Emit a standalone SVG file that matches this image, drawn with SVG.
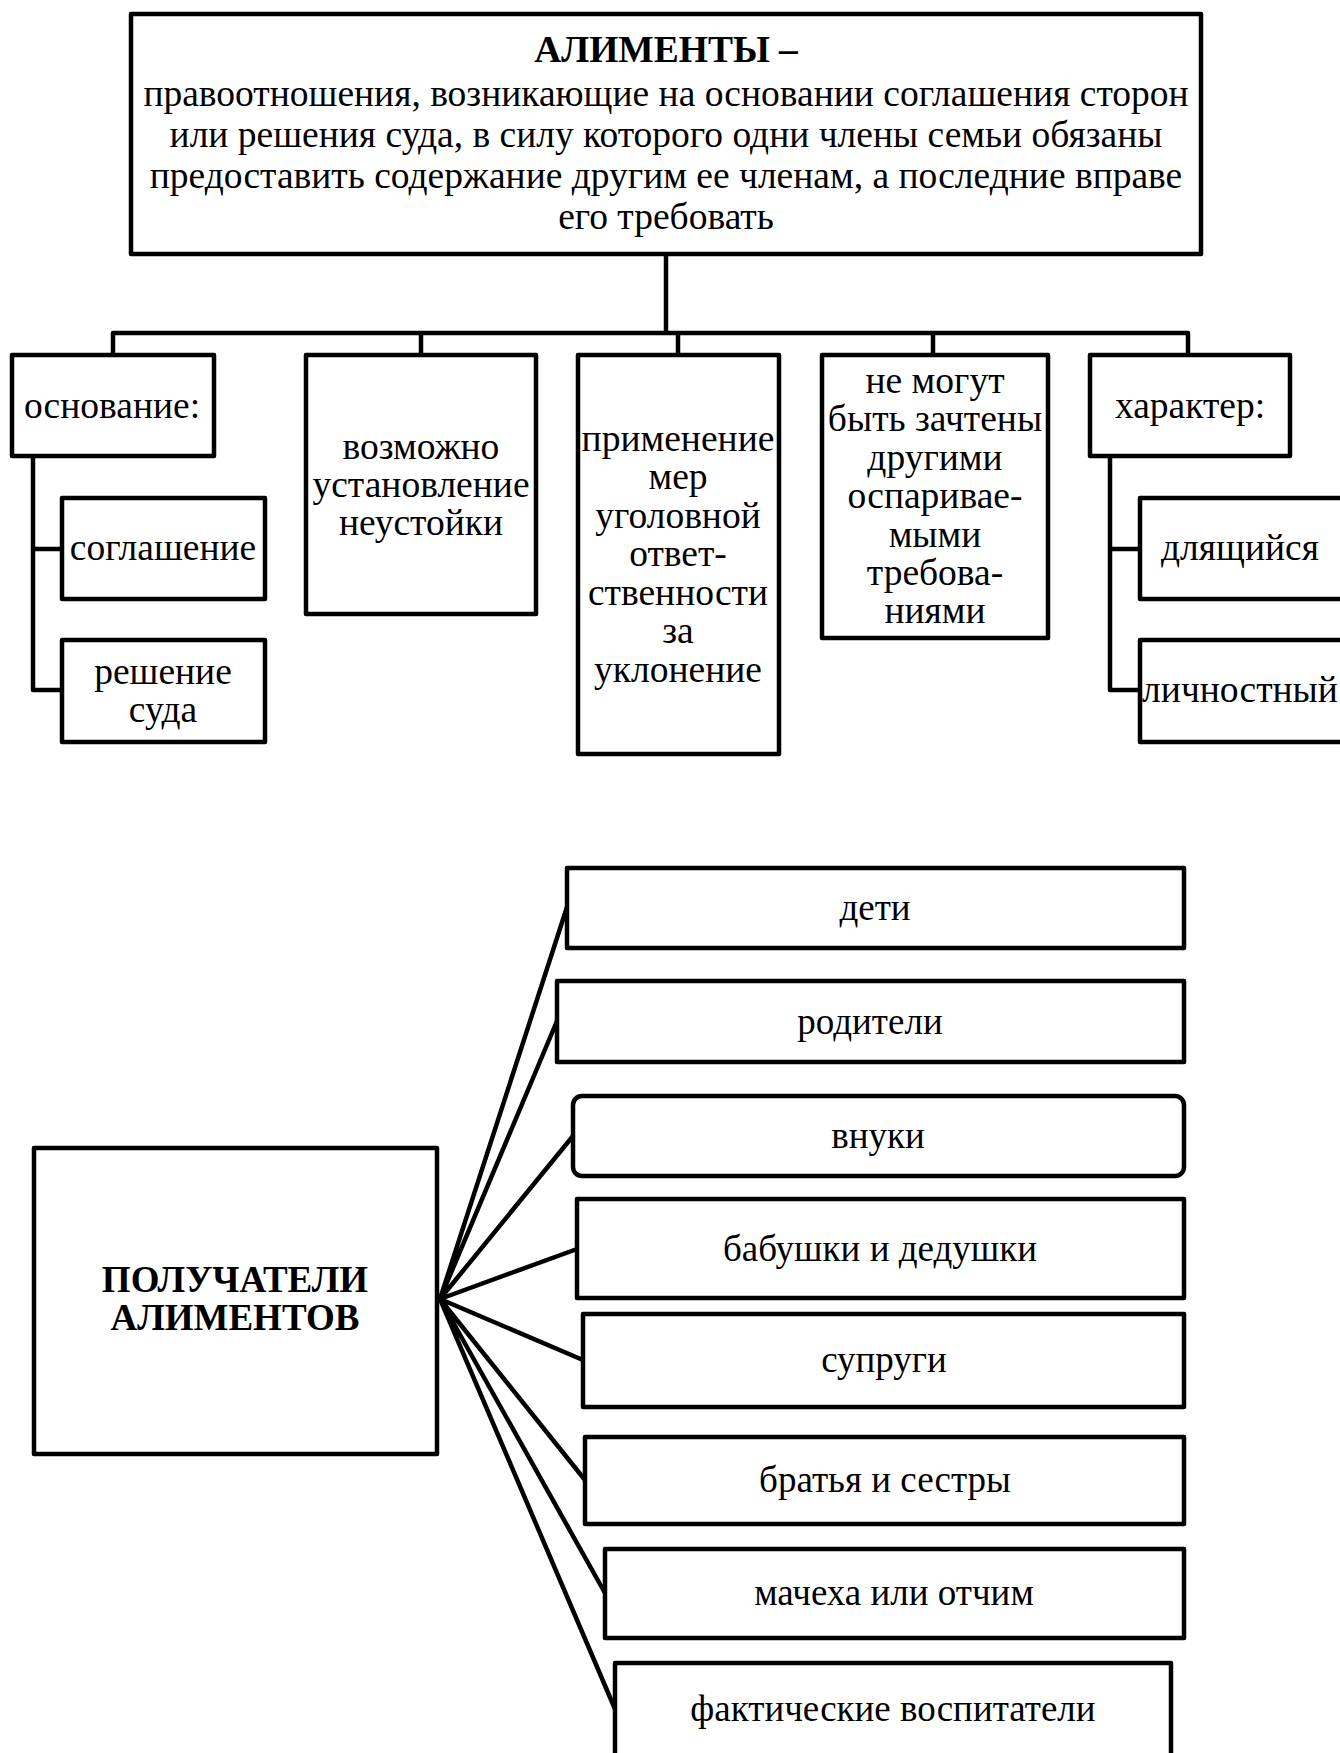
<svg xmlns="http://www.w3.org/2000/svg" width="1340" height="1753" viewBox="0 0 1340 1753">
<style>
  .box{fill:#fff;stroke:#000;stroke-width:4.5;stroke-linejoin:round}
  .ln{fill:none;stroke:#000;stroke-width:4.5;stroke-linejoin:round;stroke-linecap:round}
  text{font-family:"Liberation Serif","Times New Roman",serif;font-size:37.5px;fill:#000;text-anchor:middle}
  .lo text{font-size:37px}
  .b{font-weight:bold}
</style>
<rect width="1340" height="1753" fill="#fff"/>
<g id="connectors">
  <path class="ln" d="M666 254 V333 M113 333 H1188 M113 333 V355 M421 333 V355 M678 333 V355 M933 333 V355 M1188 333 V355"/>
  <path class="ln" d="M33 456 V690 H62 M33 549 H62"/>
  <path class="ln" d="M1110 456 V690 H1140 M1110 549 H1140"/>
  <path class="ln" d="M440 1299 L567 907 M440 1299 L557 1021 M440 1299 L573 1136 M440 1299 L577 1249 M440 1299 L583 1360 M440 1299 L585 1480 M440 1299 L605 1593 M440 1299 L615 1709"/>
</g>
<g id="n-alimenty">
  <rect class="box" x="131" y="14" width="1070" height="240"/>
  <text class="b" x="666" y="62">АЛИМЕНТЫ –</text>
  <text x="666" y="106">правоотношения, возникающие на основании соглашения сторон</text>
  <text x="666" y="147">или решения суда, в силу которого одни члены семьи обязаны</text>
  <text x="666" y="188">предоставить содержание другим ее членам, а последние вправе</text>
  <text x="666" y="229">его требовать</text>
</g>
<g id="n-osnovanie">
  <rect class="box" x="12" y="355" width="202" height="101"/>
  <text x="112" y="418">основание:</text>
</g>
<g id="n-soglashenie">
  <rect class="box" x="62" y="498" width="203" height="101"/>
  <text x="163" y="560">соглашение</text>
</g>
<g id="n-reshenie">
  <rect class="box" x="62" y="640" width="203" height="102"/>
  <text x="163" y="684">решение</text>
  <text x="163" y="722">суда</text>
</g>
<g id="n-neustoyka">
  <rect class="box" x="306" y="355" width="230" height="259"/>
  <text x="421" y="459">возможно</text>
  <text x="421" y="497">установление</text>
  <text x="421" y="535">неустойки</text>
</g>
<g id="n-ugolovnaya">
  <rect class="box" x="578" y="355" width="201" height="399"/>
  <text x="678" y="451">применение</text>
  <text x="678" y="489">мер</text>
  <text x="678" y="528">уголовной</text>
  <text x="678" y="566">ответ-</text>
  <text x="678" y="605">ственности</text>
  <text x="678" y="643">за</text>
  <text x="678" y="682">уклонение</text>
</g>
<g id="n-zachet">
  <rect class="box" x="822" y="355" width="226" height="283"/>
  <text x="935" y="393">не могут</text>
  <text x="935" y="431">быть зачтены</text>
  <text x="935" y="470">другими</text>
  <text x="935" y="508">оспаривае-</text>
  <text x="935" y="547">мыми</text>
  <text x="935" y="585">требова-</text>
  <text x="935" y="623">ниями</text>
</g>
<g id="n-harakter">
  <rect class="box" x="1090" y="355" width="200" height="101"/>
  <text x="1190" y="418">характер:</text>
</g>
<g id="n-dlyashchiysya">
  <rect class="box" x="1140" y="498" width="210" height="101"/>
  <text x="1240" y="560">длящийся</text>
</g>
<g id="n-lichnostny">
  <rect class="box" x="1140" y="640" width="210" height="102"/>
  <text x="1240" y="702">личностный</text>
</g>
<g class="lo">
<g id="n-poluchateli">
  <rect class="box" x="34" y="1148" width="403" height="306"/>
  <text class="b" x="235" y="1292">ПОЛУЧАТЕЛИ</text>
  <text class="b" x="235" y="1330">АЛИМЕНТОВ</text>
</g>
<g id="n-deti">
  <rect class="box" x="567" y="868" width="617" height="80"/>
  <text x="875" y="920">дети</text>
</g>
<g id="n-roditeli">
  <rect class="box" x="557" y="981" width="627" height="81"/>
  <text x="870" y="1034">родители</text>
</g>
<g id="n-vnuki">
  <rect class="box" x="573" y="1096" width="611" height="80" rx="9"/>
  <text x="878" y="1148">внуки</text>
</g>
<g id="n-babushki">
  <rect class="box" x="577" y="1199" width="607" height="99"/>
  <text x="880" y="1261">бабушки и дедушки</text>
</g>
<g id="n-suprugi">
  <rect class="box" x="583" y="1314" width="601" height="93"/>
  <text x="884" y="1372">супруги</text>
</g>
<g id="n-bratya">
  <rect class="box" x="585" y="1437" width="599" height="87"/>
  <text x="885" y="1492">братья и сестры</text>
</g>
<g id="n-macheha">
  <rect class="box" x="605" y="1549" width="579" height="89"/>
  <text x="894" y="1605">мачеха или отчим</text>
</g>
<g id="n-vospitateli">
  <rect class="box" x="615" y="1663" width="556" height="110"/>
  <text x="893" y="1721">фактические воспитатели</text>
</g>
</g>
</svg>
